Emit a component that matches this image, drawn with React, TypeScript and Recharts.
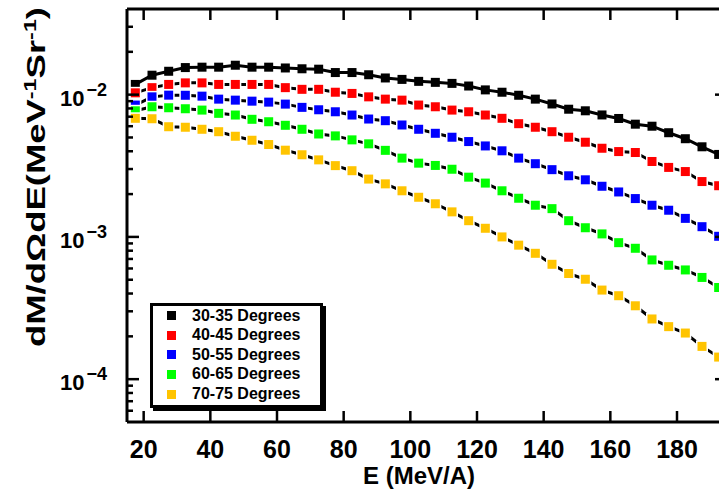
import React from 'react'
import { LineChart, Line, XAxis, YAxis, Legend } from 'recharts'

// energy bins (MeV/A)
const energies = [
  17.5, 22.5, 27.5, 32.5, 37.5, 42.5, 47.5, 52.5, 57.5, 62.5, 67.5, 72.5,
  77.5, 82.5, 87.5, 92.5, 97.5, 102.5, 107.5, 112.5, 117.5, 122.5, 127.5,
  132.5, 137.5, 142.5, 147.5, 152.5, 157.5, 162.5, 167.5, 172.5, 177.5, 182.5, 187.5, 192.5,
]

const deg30 = [
  0.0118, 0.0137, 0.0146, 0.0155, 0.0156, 0.0156, 0.0161, 0.0156, 0.0156, 0.0154, 0.0152, 0.0151,
  0.0143, 0.0143, 0.0138, 0.0131, 0.0128, 0.0124, 0.0122, 0.012, 0.0115, 0.0108, 0.0104,
  0.0099, 0.0093, 0.0086, 0.0079, 0.0077, 0.0072, 0.0068, 0.0062, 0.006, 0.0054, 0.0049, 0.0043, 0.0038,
]
const deg40 = [
  0.0103, 0.0112, 0.0118, 0.0121, 0.0121, 0.0118, 0.0118, 0.0118, 0.0118, 0.0112, 0.0109, 0.0109,
  0.0104, 0.0102, 0.00965, 0.0093, 0.00915, 0.00845, 0.00822, 0.00779, 0.00758, 0.00719, 0.00682,
  0.00625, 0.0059, 0.00549, 0.00502, 0.00463, 0.0042, 0.00398, 0.00392, 0.00339, 0.00308, 0.00288, 0.00245, 0.00229,
]
const deg50 = [
  0.00845, 0.00965, 0.00992, 0.0099, 0.00976, 0.0093, 0.00915, 0.009, 0.00886, 0.00858, 0.00814, 0.00783,
  0.00758, 0.00719, 0.00674, 0.00656, 0.00612, 0.00571, 0.00535, 0.00502, 0.00468, 0.00436, 0.00403,
  0.00358, 0.00327, 0.00297, 0.00269, 0.00252, 0.00227, 0.00207, 0.00186, 0.00167, 0.00154, 0.00135, 0.00118, 0.00101,
]
const deg60 = [
  0.0077, 0.00822, 0.00809, 0.00796, 0.00779, 0.00739, 0.00719, 0.00671, 0.00645, 0.00609, 0.00571, 0.00529,
  0.00513, 0.00481, 0.00451, 0.00406, 0.00358, 0.0033, 0.00318, 0.00299, 0.00263, 0.00239, 0.00211,
  0.00187, 0.00167, 0.00158, 0.0013, 0.00116, 0.00105, 0.000911, 0.000832, 0.000689, 0.000632, 0.000586, 0.000519, 0.000441,
]
const deg70 = [
  0.00682, 0.00677, 0.00595, 0.0059, 0.00571, 0.00549, 0.0051, 0.00478, 0.00446, 0.00407, 0.00378, 0.00348,
  0.00317, 0.00292, 0.00255, 0.00236, 0.00211, 0.0019, 0.00171, 0.0015, 0.0013, 0.00115, 0.001,
  0.000875, 0.000767, 0.000642, 0.000553, 0.000504, 0.000423, 0.000386, 0.000328, 0.000265, 0.000234, 0.000211, 0.00017, 0.000143,
]

const seriesKeys = ['d30', 'd40', 'd50', 'd60', 'd70']
const seriesNames = ['30-35 Degrees', '40-45 Degrees', '50-55 Degrees', '60-65 Degrees', '70-75 Degrees']
const seriesColors = ['#000000', '#ff0000', '#0000ff', '#00ff00', '#ffc400']
const seriesValues = [deg30, deg40, deg50, deg60, deg70]

const xTicks = [20, 40, 60, 80, 100, 120, 140, 160, 180]
const yMajor = [1e-4, 1e-3, 1e-2]
const yMinor = [
  6e-5, 7e-5, 8e-5, 9e-5,
  2e-4, 3e-4, 4e-4, 5e-4, 6e-4, 7e-4, 8e-4, 9e-4,
  2e-3, 3e-3, 4e-3, 5e-3, 6e-3, 7e-3, 8e-3, 9e-3,
  2e-2, 3e-2,
]
const yTicks = [...yMajor, ...yMinor]

const data = energies.map((e, i) => {
  const row: any = { e }
  seriesKeys.forEach((k, s) => { row[k] = seriesValues[s][i] })
  return row
})

const FONT = '"Liberation Sans", Arial, Helvetica, sans-serif'

function LeftTick({ x, y, payload }: any) {
  const major = yMajor.includes(payload.value)
  const exp = Math.round(Math.log10(payload.value))
  return (
    <g>
      <line x1={x} x2={x + (major ? 12 : 6)} y1={y} y2={y} stroke="#000" strokeWidth={2.5} />
      {major && (
        <text x={107} y={y + 11} textAnchor="end" fontSize={22} fontWeight="bold" fill="#000">
          10<tspan dx={2} dy={-10} fontSize={18}>{'\u2212' + Math.abs(exp)}</tspan>
        </text>
      )}
    </g>
  )
}

function RightTick({ x, y, payload }: any) {
  const major = yMajor.includes(payload.value)
  return <line x1={x} x2={x - (major ? 12 : 6)} y1={y} y2={y} stroke="#000" strokeWidth={2.5} />
}

function TopTick({ x, y }: any) {
  return <line x1={x} x2={x} y1={y} y2={y + 11} stroke="#000" strokeWidth={2.5} />
}

function BottomTick({ x, y, payload }: any) {
  return (
    <g>
      <line x1={x} x2={x} y1={y} y2={y - 11} stroke="#000" strokeWidth={2.5} />
      <text x={x} y={y + 35.5} textAnchor="middle" fontSize={25} fontWeight="bold" fill="#000">
        {payload.value}
      </text>
    </g>
  )
}

function XTitle() {
  return (
    <text x={419} y={483.5} textAnchor="middle" fontSize={24} fontWeight="bold" fill="#000">
      E (MeV/A)
    </text>
  )
}

function YTitle() {
  return (
    <text
      x={45}
      y={177}
      transform="rotate(-90, 45, 177)"
      textAnchor="middle"
      fontSize={25}
      fontWeight="bold"
      fill="#000"
      textLength={340}
      lengthAdjust="spacingAndGlyphs"
    >
      dM/dΩdE(MeV<tspan dy={-9} fontSize={16}>-1</tspan>
      <tspan dy={9}>Sr</tspan>
      <tspan dy={-9} fontSize={16}>-1</tspan>
      <tspan dy={9}>)</tspan>
    </text>
  )
}

const makeDot = (color: string) => (p: any) => {
  const halo = color !== '#000000'
  return (
    <g key={`dot-${color}-${p.index}`}>
      {halo && <rect x={p.cx - 6} y={p.cy - 6} width={12} height={12} fill="#fff" />}
      <rect x={p.cx - 4.5} y={p.cy - 4.5} width={9} height={9} fill={color} />
    </g>
  )
}

function LegendBox({ payload }: any) {
  const items = payload || []
  return (
    <div
      style={{
        width: 173,
        height: 105,
        boxSizing: 'border-box',
        border: '3px solid #000',
        boxShadow: '3px 3px 0 #000',
        background: '#fff',
        fontFamily: FONT,
      }}
    >
      {items.map((it: any) => {
        const idx = seriesKeys.indexOf(it.dataKey)
        return (
          <div key={it.value} style={{ display: 'flex', alignItems: 'center', height: 20, marginTop: -0.4 }}>
            <span style={{ width: 9, height: 9, background: seriesColors[idx], marginLeft: 14, marginRight: 16 }} />
            <span style={{ fontSize: 16, fontWeight: 'bold', color: '#000' }}>{it.value}</span>
          </div>
        )
      })}
    </div>
  )
}

const axisLine = { stroke: '#000', strokeWidth: 3 }

export default function App() {
  return (
    <div
      style={{
        position: 'fixed',
        left: 0,
        top: 0,
        width: 719,
        height: 491,
        overflow: 'hidden',
        background: '#fff',
        fontFamily: FONT,
      }}
    >
      <LineChart width={740} height={491} data={data} margin={{ top: 8, right: 12, bottom: 68, left: 126 }}>
        <XAxis
          xAxisId="bottom"
          dataKey="e"
          type="number"
          domain={[15, 195]}
          allowDataOverflow
          ticks={xTicks}
          interval={0}
          height={1}
          tickSize={0}
          tickMargin={0}
          tickLine={false}
          tick={<BottomTick />}
          axisLine={axisLine}
          label={<XTitle />}
        />
        <XAxis
          xAxisId="top"
          orientation="top"
          dataKey="e"
          type="number"
          domain={[15, 195]}
          allowDataOverflow
          ticks={xTicks}
          interval={0}
          height={1}
          tickSize={0}
          tickMargin={0}
          tickLine={false}
          tick={<TopTick />}
          axisLine={axisLine}
        />
        <YAxis
          yAxisId="left"
          scale="log"
          type="number"
          domain={[5e-5, 0.04]}
          allowDataOverflow
          ticks={yTicks}
          interval={0}
          width={1}
          tickSize={0}
          tickMargin={0}
          tickLine={false}
          tick={<LeftTick />}
          axisLine={axisLine}
          label={<YTitle />}
        />
        <YAxis
          yAxisId="right"
          orientation="right"
          scale="log"
          type="number"
          domain={[5e-5, 0.04]}
          allowDataOverflow
          ticks={yTicks}
          interval={0}
          width={1}
          tickSize={0}
          tickMargin={0}
          tickLine={false}
          tick={<RightTick />}
          axisLine={axisLine}
        />
        <Legend
          layout="vertical"
          align="center"
          verticalAlign="middle"
          wrapperStyle={{ left: 150, top: 303 }}
          content={<LegendBox />}
        />
        {seriesKeys.map((k, s) => (
          <Line
            key={k}
            xAxisId="bottom"
            yAxisId="left"
            dataKey={k}
            name={seriesNames[s]}
            type="linear"
            stroke="#000"
            strokeWidth={3}
            dot={makeDot(seriesColors[s])}
            activeDot={false}
            isAnimationActive={false}
          />
        ))}
      </LineChart>
    </div>
  )
}
